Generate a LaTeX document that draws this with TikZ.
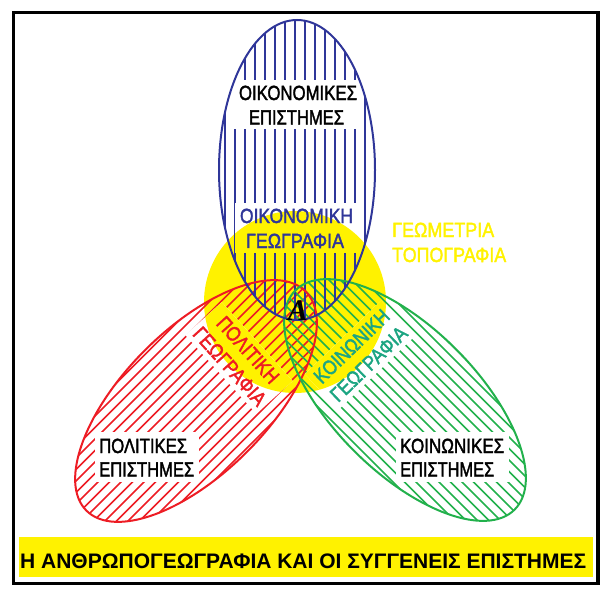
\documentclass[tikz,border=0pt]{standalone}
\usepackage{fontspec}
\usepackage{graphicx}
\setmainfont{Liberation Sans}
\newfontfamily\lblfont[FakeBold=2]{Liberation Sans}
\newfontfamily\serifA{Liberation Serif}
\pgfdeclarelayer{bgl}
\pgfdeclarelayer{hatchl}
\pgfdeclarelayer{boxl}
\pgfsetlayers{bgl,hatchl,boxl,main}
\definecolor{cblue}{RGB}{47,54,153}
\definecolor{cred}{RGB}{237,28,36}
\definecolor{cgreen}{RGB}{34,177,76}
\definecolor{cteal}{RGB}{28,165,130}
\definecolor{cyellow}{RGB}{255,242,0}
\newcommand\fw[2]{\resizebox{#1pt}{\height}{#2}}
\tikzset{
  lbl/.style={inner sep=0pt, font=\lblfont\fontsize{20.5}{24.5}\selectfont},
  lblb/.style={inner sep=0pt, font=\fontsize{21}{24}\selectfont\bfseries},
  outl/.style={line width=2pt},
  hatch/.style={line width=1.6pt},
}
\begin{document}
\begin{tikzpicture}[x=1pt,y=-1pt]
\useasboundingbox (0,0) rectangle (605,589);

% yellow circle
\begin{pgfonlayer}{bgl}
  \fill[cyellow] (295,302) circle[radius=91pt];
\end{pgfonlayer}

% hatching
\begin{pgfonlayer}{hatchl}
  \begin{scope}
    \clip[rotate around={45:(196,401)}] (196,401) ellipse[x radius=155pt, y radius=72pt];
    \foreach \c in {350,361.5,...,870} \draw[cred, hatch] (\c,0) -- ({\c-600},600);
  \end{scope}
  \begin{scope}
    \clip[rotate around={-45:(405,400)}] (405,400) ellipse[x radius=155pt, y radius=72pt];
    \foreach \c in {-250,-238.5,...,270} \draw[cgreen, hatch] (\c,0) -- ({\c+600},600);
  \end{scope}
  \begin{scope}
    \clip (297,170) ellipse[x radius=78pt, y radius=150pt];
    \foreach \x in {215,225,...,375} \draw[cblue, line width=2pt] (\x,15) -- (\x,325);
  \end{scope}
\end{pgfonlayer}

% label backgrounds
\begin{pgfonlayer}{boxl}
  \fill[white] (234,80) rectangle (361,129);
  \fill[white] (235,203) rectangle (358,253);
  \fill[white] (95,432) rectangle (199,482);
  \fill[white] (396,432) rectangle (509,482);
  \begin{scope}[shift={(239,358)}, rotate=-48]
    \fill[white] (-53,-24.5) rectangle (53,24.5);
  \end{scope}
  \begin{scope}[shift={(360,355)}, rotate=44]
    \fill[white] (-53,-24.5) rectangle (53,24.5);
  \end{scope}
  \begin{scope}
    \clip (295,302) circle[radius=91pt];
    \fill[cyellow] (235,203) rectangle (358,253);
    \begin{scope}[shift={(239,358)}, rotate=-48]
      \fill[cyellow] (-53,-24.5) rectangle (53,24.5);
    \end{scope}
    \begin{scope}[shift={(360,355)}, rotate=44]
      \fill[cyellow] (-53,-24.5) rectangle (53,24.5);
    \end{scope}
  \end{scope}
\end{pgfonlayer}

% outlines
\draw[cred, outl, rotate around={45:(196,401)}] (196,401) ellipse[x radius=155pt, y radius=72pt];
\draw[cgreen, outl, rotate around={-45:(405,400)}] (405,400) ellipse[x radius=155pt, y radius=72pt];
\draw[cblue, outl] (297,170) ellipse[x radius=78pt, y radius=150pt];

% frame and title bar
\draw[line width=3.5pt] (13.5,12.5) rectangle (598,583.5);
\fill[cyellow] (19,537) rectangle (593,577);
\node[lblb, anchor=base west] (title) at (20,568) {\fw{566}{Η ΑΝΘΡΩΠΟΓΕΩΓΡΑΦΙΑ ΚΑΙ ΟΙ ΣΥΓΓΕΝΕΙΣ ΕΠΙΣΤΗΜΕΣ}};

% economic sciences
\node[lbl, anchor=base] (oe1) at (298,100) {\fw{118}{ΟΙΚΟΝΟΜΙΚΕΣ}};
\node[lbl, anchor=base] (oe2) at (296.5,124.5) {\fw{95}{ΕΠΙΣΤΗΜΕΣ}};
% economic geography
\node[lbl, text=cblue, anchor=base] (og1) at (296.5,223) {\fw{113}{ΟΙΚΟΝΟΜΙΚΗ}};
\node[lbl, text=cblue, anchor=base] (og2) at (295,248) {\fw{98}{ΓΕΩΓΡΑΦΙΑ}};
% geometry topography
\node[lbl, text=cyellow, anchor=base west] (gt1) at (392,237) {\fw{102}{ΓΕΩΜΕΤΡΙΑ}};
\node[lbl, text=cyellow, anchor=base west] (gt2) at (392,262) {\fw{114}{ΤΟΠΟΓΡΑΦΙΑ}};
% political sciences
\node[lbl, anchor=base west] (pe1) at (99,453) {\fw{88}{ΠΟΛΙΤΙΚΕΣ}};
\node[lbl, anchor=base west] (pe2) at (99,476.5) {\fw{95}{ΕΠΙΣΤΗΜΕΣ}};
% social sciences
\node[lbl, anchor=base west] (ke1) at (400,453) {\fw{104}{ΚΟΙΝΩΝΙΚΕΣ}};
\node[lbl, anchor=base west] (ke2) at (400,476.5) {\fw{94}{ΕΠΙΣΤΗΜΕΣ}};
% political geography
\begin{scope}[shift={(239,358)}, rotate=-48, transform shape]
  \node[lbl, text=cred, anchor=base] (pg1) at (0,-5) {\fw{82}{ΠΟΛΙΤΙΚΗ}};
  \node[lbl, text=cred, anchor=base] (pg2) at (0,19.5) {\fw{98}{ΓΕΩΓΡΑΦΙΑ}};
\end{scope}
% social geography
\begin{scope}[shift={(360,355)}, rotate=44, transform shape]
  \node[lbl, text=cteal, anchor=base] (kg1) at (0,-5) {\fw{96}{ΚΟΙΝΩΝΙΚΗ}};
  \node[lbl, text=cteal, anchor=base] (kg2) at (0,19.5) {\fw{98}{ΓΕΩΓΡΑΦΙΑ}};
\end{scope}
% centre letter
\node[inner sep=0pt, anchor=base, font=\serifA\bfseries\itshape\fontsize{30}{30}\selectfont] (alpha) at (298,320) {Α};
\end{tikzpicture}
\end{document}
